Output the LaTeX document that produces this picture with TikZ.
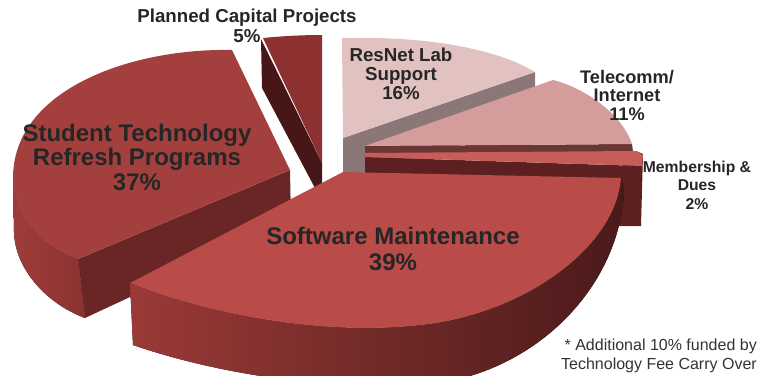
\documentclass[tikz,border=0pt]{standalone}
\usepackage{fontspec}
\setmainfont{Liberation Sans}
\definecolor{labelc}{HTML}{262626}
\definecolor{notec}{HTML}{333333}
\definecolor{rntop}{HTML}{E2C1C1}
\definecolor{rnside}{HTML}{8B7777}
\definecolor{pltop}{HTML}{8C3030}
\definecolor{plside}{HTML}{471616}
\definecolor{tctop}{HTML}{D49D9C}
\definecolor{tcside}{HTML}{6A3636}
\definecolor{mbtop}{HTML}{C65D58}
\definecolor{mbside}{HTML}{5C2020}
\definecolor{sttop}{HTML}{A3403E}
\definecolor{stfront}{HTML}{6A2626}
\definecolor{stsideL}{HTML}{9E3C3A}
\definecolor{stsideR}{HTML}{8A3331}
\definecolor{swtop}{HTML}{B94B48}
\definecolor{swsideL}{HTML}{9A3A37}
\definecolor{swsideM}{HTML}{7A2C2A}
\definecolor{swsideR}{HTML}{4A1A1A}
\begin{document}
\begin{tikzpicture}[x=1pt,y=-1pt,
  lbl/.style={text=labelc, align=center, inner sep=0pt}]
\useasboundingbox (0,0) rectangle (758,375);

% ResNet Lab Support
\fill[rnside] (535,72) -- (343,138) -- (343,185) -- (535,120) -- cycle;
\fill[rntop] (342,38) .. controls (425,36) and (495,48) .. (535,72) -- (343,138) -- cycle;

% Planned Capital Projects
\fill[plside] (261,39) -- (262,88) -- (316,190) -- (322,190) -- (322,163) -- cycle;
\fill[pltop] (263,38) .. controls (283,36) and (303,35) .. (322,35) -- (322,163) -- cycle;

% Telecomm / Internet
\fill[tcside] (365,146) -- (632,144) -- (633,152) -- (365,154) -- cycle;
\fill[tctop] (365,146) -- (553,80) .. controls (585,88) and (622,114) .. (632,144) -- cycle;

% Membership & Dues
\fill[mbside] (636,151) -- (643,154) -- (641,226) -- (618,226) -- (618,170) -- cycle;
\fill[mbside] (365,157) -- (642,166) -- (641,192) -- (365,182) -- cycle;
\fill[mbtop] (365,153) -- (636,151) -- (643,155) -- (642,166) -- (365,157) -- cycle;

% Student Technology Refresh Programs
\fill[left color=stsideL, right color=stsideR]
  (13,178) .. controls (14,215) and (40,245) .. (78,259) -- (85,318)
  .. controls (45,303) and (15,268) .. (14,232) -- cycle;
\fill[stfront] (78,259) -- (290,170) -- (291,222) -- (85,318) -- cycle;
\fill[sttop] (290,170) -- (232,50) .. controls (130,48) and (13,90) .. (13,178)
  .. controls (14,215) and (40,245) .. (78,259) -- cycle;

% Software Maintenance
\fill[left color=swsideL, middle color=swsideM, right color=swsideR]
  (621,178) .. controls (615,250) and (520,315) .. (420,325)
  .. controls (330,335) and (220,318) .. (130,283) -- (133,345)
  .. controls (220,375) and (330,390) .. (420,385)
  .. controls (530,378) and (620,290) .. (624,190) -- cycle;
\fill[swtop] (343,172) -- (621,178) .. controls (615,250) and (520,315) .. (420,325)
  .. controls (330,335) and (220,318) .. (130,283) -- cycle;

% Labels
\node[lbl, font=\bfseries\fontsize{18.7}{20.5}\selectfont] (plannedlbl) at (247,26) {Planned Capital Projects\\5\%};
\node[lbl, font=\bfseries\fontsize{18.7}{19}\selectfont] (resnetlbl) at (401,74) {ResNet Lab\\Support\\16\%};
\node[lbl, font=\bfseries\fontsize{18.2}{18.5}\selectfont] (telecomlbl) at (627,95) {Telecomm/\\Internet\\11\%};
\node[lbl, font=\bfseries\fontsize{15.7}{18.5}\selectfont] (memberlbl) at (697,185) {Membership \&\\Dues\\2\%};
\node[lbl, font=\bfseries\fontsize{24}{24.5}\selectfont] (studentlbl) at (137,157) {Student Technology\\Refresh Programs\\37\%};
\node[lbl, font=\bfseries\fontsize{24}{26}\selectfont] (softwarelbl) at (393,249) {Software Maintenance\\39\%};
\node[text=notec, align=right, inner sep=0pt, anchor=east, font=\fontsize{16}{19}\selectfont] (notelbl) at (757,356) {* Additional 10\% funded by\\Technology Fee Carry Over};
\end{tikzpicture}
\end{document}
